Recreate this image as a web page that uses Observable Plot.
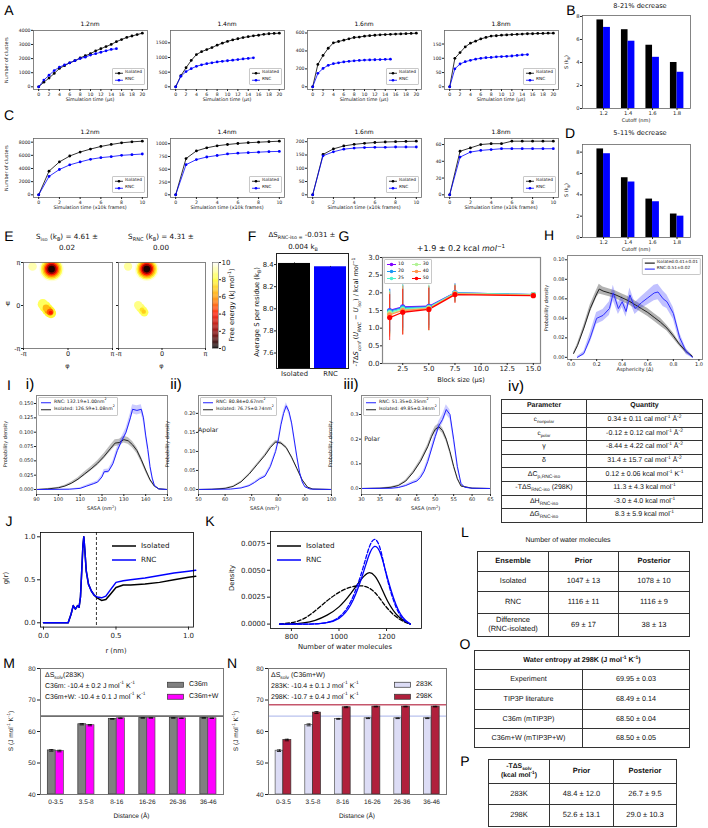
<!DOCTYPE html>
<html><head><meta charset="utf-8">
<script src="https://cdn.jsdelivr.net/npm/d3@7"></script>
<script src="https://cdn.jsdelivr.net/npm/@observablehq/plot@0.6"></script>
<style>
html,body{margin:0;padding:0;background:#fff;}
#root{position:relative;width:708px;height:828px;overflow:hidden;background:#fff;text-rendering:geometricPrecision;}
#root svg{overflow:visible;}
.tb{position:absolute;border-collapse:collapse;font-family:"Liberation Sans",Arial,sans-serif;font-size:7px;color:#111;table-layout:fixed;}
.tb td,.tb th{border:1px solid #333;text-align:center;padding:0;line-height:1.15;}
.tb th{font-weight:bold;}
sub,sup{font-size:70%;line-height:0;}
</style></head><body><div id="root"></div><script>
// ================= DATA =================
// A: number of clusters vs simulation time (µs)
const A_titles = ["1.2nm","1.4nm","1.6nm","1.8nm"];
const A12_iso = [0,330,620,950,1300,1500,1700,1850,2050,2200,2350,2550,2700,2850,3000,3200,3350,3500,3600,3700,3800];
const A12_rnc = [0,480,820,1150,1400,1550,1700,1850,2000,2100,2250,2350,2450,2550,2650,2700];
const A14_iso = [0,380,650,900,1100,1200,1270,1340,1420,1490,1550,1600,1640,1680,1710,1740,1760,1790,1810,1820,1830];
const A14_rnc = [0,360,520,620,700,750,790,820,850,870,890,910,930,950,970,990];
const A16_iso = [0,250,350,430,490,505,520,535,550,555,565,570,575,580,583,585,588,590,592,595,598];
const A16_rnc = [0,150,205,240,258,268,278,284,290,294,298,300,302,304,306,308];
const A18_iso = [0,100,120,140,153,160,168,173,178,179,181,182,183,184,185,186,186,187,187,188,188];
const A18_rnc = [0,63,80,88,93,97,100,102,103,105,106,107,108,110,112,113];
const A_yticks = [[0,1000,2000,3000,4000],[0,500,1000,1500],[0,200,400,600],[0,50,100,150]];
const A_xticks = [0,2,4,6,8,10,12,14,16,18,20];
// C: number of clusters vs simulation time (x10k frames)
const C12_iso = [0,3600,5000,5900,6500,6950,7350,7650,7900,8050,8150];
const C12_rnc = [0,2800,3850,4550,5000,5400,5650,5800,6000,6100,6200];
const C14_iso = [0,710,860,920,960,985,1005,1020,1030,1040,1050];
const C14_rnc = [0,590,690,740,770,800,815,825,835,845,850];
const C16_iso = [0,152,173,184,190,194,197,199,200,201,202];
const C16_rnc = [0,147,162,172,176,178,179,179,180,180,180];
const C18_iso = [0,52,56,60,61,61,64,64,64,64,64];
const C18_rnc = [0,45,51,53,54,55,55,55,55,55,55];
const C_yticks = [[0,2000,4000,6000,8000],[0,250,500,750,1000],[0,50,100,150,200],[0,20,40,60]];
const C_xticks = [0,2,4,6,8,10];
// B, D: entropy vs cutoff
const BD_cutoffs = ["1.2","1.4","1.6","1.8"];
const B_iso = [7.7,6.85,5.5,4.0];
const B_rnc = [7.05,5.85,4.45,3.15];
const D_iso = [8.3,5.6,3.6,2.2];
const D_rnc = [7.85,5.2,3.35,2.0];
// E: free-energy basins on Ramachandran map (phi, psi, extent in rad, energy kJ/mol)
const E_iso_phi = [-1.16,-1.16,-1.16,-1.16,-1.16,-1.16,-1.16,-2.5,-1.78,-1.62,-1.46,-1.3,-1.2,-1.55,-1.4,-1.26,-1.22];
const E_iso_psi = [2.66,2.66,2.66,2.66,2.66,2.66,2.66,2.85,0.1,-0.08,-0.28,-0.45,-0.55,-0.18,-0.35,-0.48,-0.52];
const E_iso_ext = [0.86,0.76,0.66,0.56,0.46,0.36,0.24,0.3,0.36,0.4,0.4,0.4,0.36,0.24,0.26,0.24,0.14];
const E_iso_en  = [9.6,8.3,7.0,5.6,4.0,2.2,0.4,9.2,8.4,8.2,8.0,7.8,7.8,6.6,6.0,5.0,4.0];
const E_rnc_phi = [-1.1,-1.1,-1.1,-1.1,-1.1,-1.1,-1.1,-2.45,-1.72,-1.55,-1.38,-1.28,-1.45,-1.32];
const E_rnc_psi = [2.66,2.66,2.66,2.66,2.66,2.66,2.66,2.85,0.02,-0.18,-0.38,-0.5,-0.3,-0.45];
const E_rnc_ext = [0.86,0.76,0.66,0.56,0.46,0.36,0.24,0.3,0.3,0.32,0.32,0.3,0.16,0.16];
const E_rnc_en  = [9.6,8.3,7.0,5.6,4.0,2.2,0.4,9.0,8.8,8.6,8.4,8.3,7.4,7.0];
const E_cbar_ticks = [0,2,4,6,8,10];
// F
const F_labels = ["Isolated","RNC"];
const F_vals = [8.41,8.38];
const F_err = [0.004,0.003];
// G: -TdS_conf vs block size
const G_block = [1.25,2.5,5,7.5,15];
const G_series = ["10","20","25","30","40","50"];
const G_10 = [1.5,1.6,1.62,2.0,1.95];
const G_20 = [1.48,1.58,1.6,2.0,1.95];
const G_25 = [1.45,1.55,1.58,1.99,1.95];
const G_30 = [1.42,1.52,1.57,1.98,1.94];
const G_40 = [1.38,1.5,1.55,1.97,1.93];
const G_50 = [1.3,1.45,1.53,1.95,1.92];
const G_10e = [0.6,0.6,0.55,0.25,0.03];
const G_20e = [0.62,0.65,0.6,0.25,0.03];
const G_25e = [0.62,0.65,0.6,0.25,0.03];
const G_30e = [0.62,0.7,0.65,0.25,0.03];
const G_40e = [0.63,0.68,0.62,0.25,0.03];
const G_50e = [0.65,0.65,0.6,0.25,0.03];
// H: asphericity distributions
const H_iso_x = [0.02,0.05,0.1,0.15,0.2,0.22,0.25,0.3,0.35,0.4,0.45,0.5,0.55,0.6,0.65,0.7,0.75,0.8,0.85,0.9,0.95];
const H_iso_y = [0.004,0.012,0.03,0.05,0.065,0.07,0.068,0.066,0.064,0.061,0.058,0.054,0.05,0.046,0.041,0.036,0.03,0.022,0.013,0.006,0.001];
const H_iso_e = [0.001,0.002,0.003,0.004,0.004,0.005,0.004,0.004,0.004,0.004,0.004,0.004,0.004,0.004,0.004,0.004,0.003,0.003,0.002,0.002,0.001];
const H_rnc_x = [0.05,0.1,0.15,0.2,0.25,0.3,0.33,0.37,0.4,0.43,0.46,0.5,0.55,0.6,0.65,0.68,0.72,0.75,0.8,0.85,0.9,0.95];
const H_rnc_y = [0,0.004,0.02,0.04,0.043,0.05,0.066,0.05,0.057,0.047,0.064,0.05,0.056,0.061,0.066,0.067,0.06,0.057,0.045,0.02,0.006,0.0];
const H_rnc_e = [0.001,0.002,0.005,0.006,0.006,0.007,0.008,0.006,0.006,0.006,0.007,0.006,0.006,0.007,0.008,0.008,0.008,0.007,0.006,0.005,0.003,0.001];
// I: SASA distributions
const I1_iso_x = [90,95,100,103,106,109,112,115,118,121,124,126,128,130,132,134,136,138,140,142,144,146,150];
const I1_iso_y = [0,0.001,0.003,0.006,0.011,0.018,0.027,0.036,0.046,0.058,0.072,0.081,0.082,0.087,0.085,0.078,0.068,0.052,0.034,0.017,0.006,0.001,0];
const I1_rnc_x = [90,105,110,113,116,118,120,121,123,125,127,129,131,133,134,136,138,139,140,141,142,143,144,146,150];
const I1_rnc_y = [0,0.0005,0.002,0.006,0.01,0.013,0.022,0.031,0.032,0.045,0.068,0.085,0.1,0.125,0.14,0.138,0.14,0.125,0.095,0.07,0.04,0.02,0.007,0.001,0];
const I2_iso_x = [50,55,60,63,66,69,72,75,77,79,81,83,85,87,89,91,93,100];
const I2_iso_y = [0,0.0005,0.003,0.008,0.02,0.04,0.065,0.09,0.11,0.125,0.122,0.11,0.085,0.055,0.025,0.006,0.001,0];
const I2_rnc_x = [50,62,66,69,71,73,75,77,79,80,81,82,83,84,85,86,87,88,89,90,92,100];
const I2_rnc_y = [0,0.001,0.004,0.01,0.018,0.028,0.035,0.06,0.1,0.13,0.17,0.2,0.22,0.205,0.175,0.13,0.085,0.045,0.02,0.007,0.001,0];
const I3_iso_x = [30,35,38,40,42,44,46,48,49,50,51,52,53,54,55,56,57,60,65];
const I3_iso_y = [0,0.001,0.005,0.012,0.03,0.065,0.11,0.17,0.21,0.24,0.25,0.235,0.2,0.15,0.09,0.04,0.01,0.001,0];
const I3_rnc_x = [30,38,40,42,44,45,46,47,48,49,50,51,52,53,54,55,56,57,58,60,65];
const I3_rnc_y = [0,0.001,0.004,0.012,0.025,0.03,0.045,0.07,0.11,0.16,0.21,0.255,0.28,0.32,0.3,0.2,0.09,0.02,0.005,0.001,0];
const I_band = [0.006,0.004,0.012];     // band half-widths at peak (isolated)
const I_band_rnc = [0.008,0.008,0.02];  // band half-widths at peak (RNC)
// J: radial distribution
const J_r   = [0,0.17,0.19,0.205,0.22,0.235,0.245,0.255,0.265,0.272,0.278,0.285,0.295,0.31,0.33,0.35,0.37,0.4,0.43,0.46,0.5,0.55,0.6,0.7,0.8,0.9,1.0,1.05];
const J_iso = [0,0,0.1,0.2,0.16,0.2,0.18,0.3,0.65,0.9,1.0,0.85,0.6,0.45,0.37,0.32,0.29,0.26,0.27,0.33,0.41,0.44,0.44,0.45,0.47,0.5,0.53,0.54];
const J_rnc = [0,0,0.1,0.2,0.16,0.2,0.18,0.3,0.65,0.9,1.0,0.85,0.6,0.45,0.37,0.32,0.3,0.29,0.31,0.38,0.47,0.49,0.5,0.52,0.55,0.58,0.6,0.61];
const J_cut = [0.365];
// K: number of water molecules density
const K_n = [750,800,850,900,950,1000,1050,1100,1125,1150,1175,1200,1250,1300];
const K_iso_post  = [0,0,0.0001,0.0003,0.0008,0.0015,0.0028,0.0044,0.0049,0.0046,0.0036,0.0022,0.0005,0];
const K_iso_prior = [0,0.0001,0.0004,0.0012,0.0022,0.003,0.0035,0.0036,0.0034,0.003,0.0023,0.0015,0.0004,0];
const K_rnc_post  = [0,0,0,0,0.0001,0.0004,0.0015,0.0045,0.0065,0.0075,0.0068,0.0045,0.0008,0];
const K_rnc_prior = [0,0,0,0,0.0001,0.0005,0.0018,0.005,0.0072,0.0082,0.0072,0.0042,0.0006,0];
// M, N: water entropy by distance shell
const MN_dist = ["0-3.5","3.5-8","8-16","16-26","26-36","36-46"];
const M_c36m  = [54.0,62.3,64.0,64.3,64.3,64.3];
const M_c36mw = [53.8,62.0,64.2,64.3,64.2,64.2];
const M_err   = [0.25,0.2,0.1,0.05,0.05,0.05];
const M_ref   = [64.9];
const N_283 = [53.9,62.1,64.0,64.2,64.2,64.2];
const N_298 = [57.3,66.0,67.7,67.9,67.9,67.9];
const N_err = [0.25,0.3,0.15,0.1,0.1,0.1];
const N_ref283 = [64.9];
const N_ref298 = [68.5];

// ================= HELPERS =================
const FONT = "'DejaVu Sans', sans-serif";
const ARIAL = "'Liberation Sans', Arial, sans-serif";
const root = document.getElementById("root");
function plotAt(fx, fy, fw, fh, opts, fs = 5) {
  const p = Plot.plot({
    width: fw, height: fh, marginTop: 0, marginRight: 0, marginBottom: 0, marginLeft: 0,
    style: {fontFamily: FONT, fontSize: fs + "px", background: "transparent", overflow: "visible", color: "#222"},
    ...opts
  });
  p.style.position = "absolute"; p.style.left = fx + "px"; p.style.top = fy + "px";
  root.appendChild(p); return p;
}
function txt(html, x, y, o = {}) {
  const d = document.createElement("div");
  d.innerHTML = html;
  d.style.cssText = `position:absolute;left:${x}px;top:${y}px;white-space:nowrap;line-height:1.15;font-size:${o.fs || 6}px;font-family:${o.ff || FONT};color:${o.color || "#111"};${o.css || ""}`;
  let tr = o.anchor === "start" ? "translate(0,-50%)" : o.anchor === "end" ? "translate(-100%,-50%)" : "translate(-50%,-50%)";
  if (o.rot) tr += ` rotate(${o.rot}deg)`;
  d.style.transform = tr;
  root.appendChild(d); return d;
}
function legendBox(x, y, items, o = {}) {
  const fs = o.fs || 5, h = o.rowH || fs * 1.5, w = o.lw || 8;
  const d = document.createElement("div");
  d.style.cssText = `position:absolute;left:${x}px;top:${y}px;padding:${o.pad ?? 1}px ${o.padx ?? 2}px;border:${o.border ?? "0.5px solid #c8c8c8"};border-radius:1px;background:${o.bg ?? "#fff"};font-family:${o.ff || FONT};font-size:${fs}px;color:#111;line-height:${h}px;${o.css || ""}`;
  if (o.cols) { d.style.display = "grid"; d.style.gridTemplateRows = `repeat(${Math.ceil(items.length / o.cols)}, ${h}px)`; d.style.gridAutoFlow = "column"; d.style.columnGap = (o.colGap || 4) + "px"; }
  if (o.anchor === "br") d.style.transform = "translate(-100%,-100%)";
  d.innerHTML = items.map(it => {
    let g = "";
    if (it.swatch) g = `<rect x="0.5" y="${h / 2 - 2.5}" width="${w - 1}" height="5" fill="${it.swatch}" stroke="${it.edge || "#333"}" stroke-width="0.7"/>`;
    else {
      if (it.band) g += `<rect x="0" y="${h / 2 - (it.bh || 1.5)}" width="${w}" height="${2 * (it.bh || 1.5)}" fill="${it.band}"/>`;
      g += `<line x1="0" x2="${w}" y1="${h / 2}" y2="${h / 2}" stroke="${it.color}" stroke-width="${it.sw || 0.8}" ${it.dash ? 'stroke-dasharray="2,1.5"' : ""}/>`;
      if (it.marker) g += `<circle cx="${w / 2}" cy="${h / 2}" r="${it.mr || 1.3}" fill="${it.color}"/>`;
    }
    return `<div style="display:flex;align-items:center;height:${h}px"><svg width="${w}" height="${h}" style="overflow:visible;margin-right:${o.gap ?? 2}px;flex:none">${g}</svg><span>${it.label}</span></div>`;
  }).join("");
  root.appendChild(d); return d;
}
function panelLabel(s, x, y, fs = 14) { txt(s, x, y, {fs, ff: ARIAL, color: "#000"}); }
function table(x, y, colW, rowH, rows, o = {}) {
  const t = document.createElement("table");
  t.className = "tb";
  t.style.left = x + "px"; t.style.top = y + "px";
  t.style.width = d3.sum(colW) + "px";
  if (o.fs) t.style.fontSize = o.fs + "px";
  let html = "<colgroup>" + colW.map(w => `<col style="width:${w}px">`).join("") + "</colgroup>";
  rows.forEach((r, i) => {
    html += `<tr style="height:${rowH[i]}px">` + r.map(c => {
      const tag = (i === 0 && o.header !== false) ? "th" : "td";
      if (typeof c === "object") return `<${tag} colspan="${c.span || 1}" style="${c.css || ""}">${c.html}</${tag}>`;
      return `<${tag}>${c}</${tag}>`;
    }).join("") + "</tr>";
  });
  t.innerHTML = html;
  root.appendChild(t); return t;
}
const AX = {tickSize: 2, tickPadding: 1, label: null};

// ================= PANELS A & C =================
const FX = [33, 170, 307, 444], FW = 114;
function clusterPanel(fx, fy, fh, title, iso, rnc, yticks, xticks) {
  const data = [...iso.map((v, i) => ({t: i, v, s: "Isolated"})), ...rnc.map((v, i) => ({t: i, v, s: "RNC"}))];
  const xmax = iso.length - 1, ymax = d3.max(data, d => d.v);
  plotAt(fx, fy, FW, fh, {
    x: {domain: [-0.05 * xmax, 1.05 * xmax]},
    y: {domain: [-0.05 * ymax, 1.05 * ymax]},
    color: {domain: ["Isolated", "RNC"], range: ["#000", "#0000ff"]},
    marks: [
      Plot.frame({stroke: "#666", strokeWidth: 0.8}),
      Plot.axisX({...AX, ticks: xticks, tickFormat: d3.format("d")}),
      Plot.axisY({...AX, ticks: yticks, tickFormat: d3.format("d")}),
      Plot.line(data, {x: "t", y: "v", stroke: "s", z: "s", strokeWidth: 0.8}),
      Plot.dot(data, {x: "t", y: "v", fill: "s", r: 1.4})
    ]
  }, 4.6);
  txt(title, Math.round(fx + FW / 2), fy - 5, {fs: 6, color: "#000"});
  legendBox(fx + FW - 2, fy + fh - 4, [
    {label: "Isolated", color: "#000", marker: true},
    {label: "RNC", color: "#0000ff", marker: true}
  ], {fs: 4.3, rowH: 6.5, lw: 8, anchor: "br", padx: 2});
}
const A_iso = [A12_iso, A14_iso, A16_iso, A18_iso], A_rnc = [A12_rnc, A14_rnc, A16_rnc, A18_rnc];
const C_iso = [C12_iso, C14_iso, C16_iso, C18_iso], C_rnc = [C12_rnc, C14_rnc, C16_rnc, C18_rnc];
for (let k = 0; k < 4; k++) {
  clusterPanel(FX[k], 30, 59, A_titles[k], A_iso[k], A_rnc[k], A_yticks[k], A_xticks);
  txt("Simulation time (µs)", FX[k] + FW / 2, 101, {fs: 4.8});
  clusterPanel(FX[k], 138, 59, A_titles[k], C_iso[k], C_rnc[k], C_yticks[k], C_xticks);
  txt("Simulation time (x10k frames)", FX[k] + FW / 2, 209, {fs: 4.8});
}
txt("Number of clusters", 8, 60, {fs: 4.8, rot: -90});
txt("Number of clusters", 8, 168, {fs: 4.8, rot: -90});
panelLabel("A", 9, 10); panelLabel("C", 9, 115);

// ================= PANELS B & D =================
function barPanel(fy, fh, iso, rnc, title, ty) {
  const data = [...iso.map((v, i) => ({i, v, s: "Isolated", a: i - 0.27, b: i})), ...rnc.map((v, i) => ({i, v, s: "RNC", a: i, b: i + 0.28}))];
  const ymax = d3.max(data, d => d.v) * 1.05;
  plotAt(582, fy, 108, fh, {
    x: {domain: [-0.86, 3.55]},
    y: {domain: [0, ymax]},
    color: {domain: ["Isolated", "RNC"], range: ["#000", "#0000ff"]},
    marks: [
      Plot.rect(data, {x1: "a", x2: "b", y1: 0, y2: "v", fill: "s"}),
      Plot.frame({stroke: "#666", strokeWidth: 0.8}),
      Plot.axisX({...AX, ticks: [0, 1, 2, 3], tickFormat: i => BD_cutoffs[i]}),
      Plot.axisY({...AX, ticks: [0, 2, 4, 6, 8], tickFormat: d3.format("d")})
    ]
  }, 5.2);
  txt(title, 640, ty, {fs: 6.6});
}
barPanel(15, 93, B_iso, B_rnc, "8-21% decrease", 7);
txt("Cutoff (nm)", 636, 122, {fs: 5});
txt("S (k<sub>B</sub>)", 568, 62, {fs: 5, rot: -90});
barPanel(144, 93, D_iso, D_rnc, "5-11% decrease", 134);
txt("Cutoff (nm)", 636, 251, {fs: 5});
txt("S (k<sub>B</sub>)", 568, 190, {fs: 5, rot: -90});
panelLabel("B", 571, 10); panelLabel("D", 570, 133);

// ================= PANEL E =================
const E_color = {type: "linear", domain: [0, 2, 4, 6, 8, 10], range: ["#000000", "#8c0000", "#ff1700", "#ff9d00", "#ffff36", "#ffffff"], clamp: true};
function ramaMap(fx, fw, phi, psi, ext, en, showY) {
  const data = phi.map((p, i) => ({phi: p, psi: psi[i], ext: ext[i], en: en[i]}));
  const PI = Math.PI;
  plotAt(fx, 262, fw, 86, {
    x: {domain: [-PI, PI]}, y: {domain: [-PI, PI]},
    r: {type: "linear", domain: [0, 2 * PI], range: [0, fw]},
    color: E_color,
    marks: [
      Plot.dot(data, {x: "phi", y: "psi", r: "ext", fill: "en", clip: true, imageFilter: "blur(0.7px)"}),
      Plot.frame({stroke: "#666", strokeWidth: 0.8}),
      Plot.axisX({...AX, ticks: [-PI, 0, PI], tickFormat: d => d < -1 ? "-π" : d > 1 ? "π" : "0"}),
      Plot.axisY({...AX, ticks: [-PI, 0, PI], tickFormat: d => showY ? (d < -1 ? "-π" : d > 1 ? "π" : "0") : ""})
    ]
  }, 6.5);
  txt("φ", fx + fw / 2, 367, {fs: 6.5});
}
ramaMap(23, 89, E_iso_phi, E_iso_psi, E_iso_ext, E_iso_en, true);
ramaMap(118, 87, E_rnc_phi, E_rnc_psi, E_rnc_ext, E_rnc_en, false);
txt("ψ", 8, 304, {fs: 6.5});
txt("S<sub>iso</sub> (k<sub>B</sub>) = 4.61 ±", 67, 237, {fs: 7.2});
txt("0.02", 67, 248, {fs: 7.2});
txt("S<sub>RNC</sub> (k<sub>B</sub>) = 4.31 ±", 161, 237, {fs: 7.2});
txt("0.00", 161, 248, {fs: 7.2});
// colorbar
const cbar = d3.range(0, 10, 0.1).map(v => ({v}));
plotAt(212, 262, 6, 86, {
  x: {domain: [0, 1], axis: null}, y: {domain: [0, 10]}, color: E_color,
  marks: [
    Plot.rect(cbar, {x1: 0, x2: 1, y1: "v", y2: d => d.v + 0.1, fill: d => d.v + 0.05}),
    Plot.frame({stroke: "#666", strokeWidth: 0.6}),
    Plot.axisY({...AX, anchor: "right", ticks: E_cbar_ticks, tickFormat: d3.format("d")})
  ]
}, 7);
txt("Free energy (kJ mol<sup>-1</sup>)", 233, 305, {fs: 6.8, rot: -90});
panelLabel("E", 9, 236);

// ================= PANEL F =================
const F_data = F_labels.map((l, i) => ({l, v: F_vals[i], e: F_err[i]}));
plotAt(276, 253, 72, 115, {
  x: {type: "band", domain: F_labels, paddingInner: 0.1, paddingOuter: 0.05},
  y: {domain: [7.46, 8.5]},
  color: {domain: F_labels, range: ["#000", "#0000ff"]},
  marks: [
    Plot.rect(F_data, {x: "l", y1: 7.46, y2: "v", fill: "l"}),
    Plot.ruleX(F_data, {x: "l", y1: d => d.v - d.e, y2: d => d.v + d.e, stroke: "#000"}),
    Plot.frame({stroke: "#222", strokeWidth: 1}),
    Plot.axisX({...AX, tickSize: 0, tickPadding: 3}),
    Plot.axisY({...AX, ticks: [7.6, 7.8, 8.0, 8.2, 8.4], tickFormat: d3.format(".1f")})
  ]
}, 6.8);
txt("Average S per residue (k<sub>B</sub>)", 258, 312, {fs: 6.8, rot: -90});
txt("ΔS<sub>RNC-iso =</sub> -0.031 ±", 302, 235, {fs: 7});
txt("0.004 k<sub>B</sub>", 303, 247, {fs: 7});
panelLabel("F", 252, 236);

// ================= PANEL G =================
const G_vals = [G_10, G_20, G_25, G_30, G_40, G_50], G_errs = [G_10e, G_20e, G_25e, G_30e, G_40e, G_50e];
const G_data = G_series.flatMap((s, k) => G_block.map((b, i) => ({s, b, v: G_vals[k][i], e: G_errs[k][i]})));
const G_colors = ["#8000ff", "#1996f3", "#4df3ce", "#b2f396", "#ff964f", "#ff0000"];
plotAt(382, 257, 158, 106, {
  x: {domain: [0.5625, 15.6875]}, y: {domain: [0, 3]},
  color: {domain: G_series, range: G_colors},
  marks: [
    Plot.ruleX(G_data, {x: "b", y1: d => d.v - d.e, y2: d => d.v + d.e, stroke: "s", strokeWidth: 0.8}),
    Plot.line(G_data, {x: "b", y: "v", stroke: "s", z: "s", strokeWidth: 1.3}),
    Plot.dot(G_data, {x: "b", y: "v", fill: "s", r: 2.6}),
    Plot.frame({stroke: "#888", strokeWidth: 1.2}),
    Plot.axisX({...AX, ticks: [2.5, 5, 7.5, 10, 12.5, 15], tickFormat: d3.format(".1f")}),
    Plot.axisY({...AX, ticks: [0, 0.5, 1, 1.5, 2, 2.5, 3], tickFormat: d3.format(".1f")})
  ]
}, 7);
legendBox(384, 259, G_series.map((s, k) => ({label: s, color: G_colors[k], marker: true, mr: 1.8, sw: 1})), {fs: 4.6, rowH: 7, lw: 9, cols: 2, colGap: 8, pad: 1});
txt("+1.9 ± 0.2 kcal <i>mol</i><sup>−1</sup>", 461, 249, {fs: 8});
txt("Block size (µs)", 461, 381, {fs: 6.6});
txt("-<i>T</i>Δ<i>S</i><sub><i>conf</i></sub> (<i>U</i><sub><i>RNC</i></sub> − <i>U</i><sub><i>iso</i></sub>) / kcal <i>mol</i><sup>−1</sup>", 357, 312, {fs: 6.6, rot: -90});
panelLabel("G", 344, 236);

// ================= PANEL H =================
const H_iso = H_iso_x.map((x, i) => ({x, y: H_iso_y[i], e: H_iso_e[i]}));
const H_rnc = H_rnc_x.map((x, i) => ({x, y: H_rnc_y[i], e: H_rnc_e[i]}));
plotAt(567, 255, 135, 104, {
  x: {domain: [-0.028, 1.028]}, y: {domain: [-0.0022, 0.1044]},
  marks: [
    Plot.areaY(H_iso, {x: "x", y1: d => d.y - d.e, y2: d => d.y + d.e, fill: "#000", fillOpacity: 0.3}),
    Plot.areaY(H_rnc, {x: "x", y1: d => d.y - d.e, y2: d => d.y + d.e, fill: "#3333ff", fillOpacity: 0.3}),
    Plot.line(H_iso, {x: "x", y: "y", stroke: "#222", strokeWidth: 1}),
    Plot.line(H_rnc, {x: "x", y: "y", stroke: "#3030ff", strokeWidth: 1}),
    Plot.frame({stroke: "#888", strokeWidth: 1}),
    Plot.axisX({...AX, ticks: [0, 0.2, 0.4, 0.6, 0.8, 1], tickFormat: d3.format(".1f")}),
    Plot.axisY({...AX, ticks: [0, 0.02, 0.04, 0.06, 0.08, 0.1], tickFormat: d3.format(".2f")})
  ]
}, 5);
legendBox(701, 258, [
  {label: "Isolated:0.41±0.01", color: "#555", sw: 1.6},
  {label: "RNC:0.51±0.02", color: "#6a6aff", sw: 1.6}
], {fs: 4.3, rowH: 6.3, lw: 10, css: "transform:translateX(-100%)"});
txt("Asphericity (Δ)", 635, 371, {fs: 5});
txt("Probability density", 548, 308, {fs: 5, rot: -90});
panelLabel("H", 549, 235);

// ================= PANEL I =================
const I_specs = [
  {fx: 36, fw: 131, xd: [90, 150], yd: [-0.0087, 0.164], xt: [90, 100, 110, 120, 130, 140, 150], yt: [0, 0.025, 0.05, 0.075, 0.1, 0.125, 0.15], yf: ".3f",
   ix: I1_iso_x, iy: I1_iso_y, rx: I1_rnc_x, ry: I1_rnc_y, leg: ["RNC: 132.19±1.00nm<sup>2</sup>", "Isolated: 126.59±1.08nm<sup>2</sup>"]},
  {fx: 198, fw: 133, xd: [50, 100], yd: [-0.0132, 0.247], xt: [50, 60, 70, 80, 90, 100], yt: [0, 0.05, 0.1, 0.15, 0.2], yf: ".2f",
   ix: I2_iso_x, iy: I2_iso_y, rx: I2_rnc_x, ry: I2_rnc_y, leg: ["RNC: 80.84±0.67nm<sup>2</sup>", "Isolated: 76.75±0.74nm<sup>2</sup>"]},
  {fx: 361, fw: 129, xd: [30, 65], yd: [-0.0243, 0.377], xt: [30, 35, 40, 45, 50, 55, 60, 65], yt: [0, 0.1, 0.2, 0.3], yf: ".1f",
   ix: I3_iso_x, iy: I3_iso_y, rx: I3_rnc_x, ry: I3_rnc_y, leg: ["RNC: 51.35±0.35nm<sup>2</sup>", "Isolated: 49.85±0.34nm<sup>2</sup>"]}
];
I_specs.forEach((s, k) => {
  const iso = s.ix.map((x, i) => ({x, y: s.iy[i]}));
  const rnc = s.rx.map((x, i) => ({x, y: s.ry[i]}));
  const bi = I_band[k], br = I_band_rnc[k];
  const mi = d3.max(s.iy), mr = d3.max(s.ry);
  plotAt(s.fx, 395, s.fw, 99, {
    x: {domain: s.xd}, y: {domain: s.yd},
    marks: [
      Plot.areaY(iso, {x: "x", y1: d => d.y - bi * Math.sqrt(d.y / mi), y2: d => d.y + bi * Math.sqrt(d.y / mi), fill: "#000", fillOpacity: 0.25}),
      Plot.areaY(rnc, {x: "x", y1: d => d.y - br * Math.sqrt(d.y / mr), y2: d => d.y + br * Math.sqrt(d.y / mr), fill: "#3333ff", fillOpacity: 0.25}),
      Plot.line(iso, {x: "x", y: "y", stroke: "#222", strokeWidth: 1}),
      Plot.line(rnc, {x: "x", y: "y", stroke: "#2020ff", strokeWidth: 1}),
      Plot.frame({stroke: "#888", strokeWidth: 1}),
      Plot.axisX({...AX, ticks: s.xt, tickFormat: d3.format("d")}),
      Plot.axisY({...AX, ticks: s.yt, tickFormat: d3.format(s.yf)})
    ]
  }, 5);
  legendBox(s.fx + 1.5, 396.5, [
    {label: s.leg[0], color: "#2020ff", sw: 1},
    {label: s.leg[1], color: "#222", sw: 1}
  ], {fs: 4.6, rowH: 7.5, lw: 10, padx: 2.5, gap: 3});
  txt("SASA (<i>nm</i><sup>2</sup>)", s.fx + s.fw / 2, 510, {fs: 5});
  txt("Probability density", s.fx - 29, 444, {fs: 5, rot: -90});
});
txt("Apolar", 208, 431, {fs: 6.2});
txt("Polar", 372, 440, {fs: 6.2});
panelLabel("I", 9, 385);
txt("i)", 30, 385, {fs: 15, ff: ARIAL, color: "#000"});
txt("ii)", 176, 385, {fs: 15, ff: ARIAL, color: "#000"});
txt("iii)", 351, 385, {fs: 15, ff: ARIAL, color: "#000"});
txt("iv)", 516, 387, {fs: 15, ff: ARIAL, color: "#000"});
// table iv
table(501, 399, [85, 116], [14, 13.6, 13.6, 13.6, 13.6, 13.6, 13.6, 13.6, 13.6], [
  ["Parameter", "Quantity"],
  ["<span style='font-size:90%'>c<sub>nonpolar</sub></span>", "0.34 ± 0.11 cal mol<sup>-1</sup> Å<sup>-2</sup>"],
  ["<span style='font-size:90%'>c<sub>polar</sub></span>", "-0.12 ± 0.12 cal mol<sup>-1</sup> Å<sup>-2</sup>"],
  ["γ", "-8.44 ± 4.22 cal mol<sup>-1</sup> Å<sup>-2</sup>"],
  ["δ", "31.4 ± 15.7 cal mol<sup>-1</sup> Å<sup>-2</sup>"],
  ["ΔC<sub>p,RNC-iso</sub>", "0.12 ± 0.06 kcal mol<sup>-1</sup> K<sup>-1</sup>"],
  ["-TΔS<sub>RNC-iso</sub> (298K)", "11.3 ± 4.3 kcal mol<sup>-1</sup>"],
  ["ΔH<sub>RNC-iso</sub>", "-3.0 ± 4.0 kcal mol<sup>-1</sup>"],
  ["ΔG<sub>RNC-iso</sub>", "8.3 ± 5.9 kcal mol<sup>-1</sup>"]
], {fs: 7});

// ================= PANEL J =================
const J_data = [...J_r.map((r, i) => ({r, g: J_iso[i], s: "Isolated"})), ...J_r.map((r, i) => ({r, g: J_rnc[i], s: "RNC"}))];
plotAt(40, 531.7, 153, 94.6, {
  x: {domain: [-0.0207, 1.0345]}, y: {domain: [-0.05, 1.05]},
  color: {domain: ["Isolated", "RNC"], range: ["#000", "#0000ff"]},
  marks: [
    Plot.line(J_data, {x: "r", y: "g", stroke: "s", z: "s", strokeWidth: 1.5}),
    Plot.ruleX(J_cut, {stroke: "#000", strokeWidth: 0.8, strokeDasharray: "3,2"}),
    Plot.frame({stroke: "#000", strokeWidth: 0.8}),
    Plot.axisX({...AX, ticks: [0, 0.5, 1], tickFormat: d3.format(".1f"), tickSize: 3, tickPadding: 3}),
    Plot.axisY({...AX, ticks: [0, 0.5, 1], tickFormat: d3.format(".1f"), tickSize: 3, tickPadding: 2})
  ]
}, 7);
legendBox(110, 538, [{label: "Isolated", color: "#000", sw: 1.5}, {label: "RNC", color: "#0000ff", sw: 1.5}], {fs: 7.2, rowH: 14, lw: 24, gap: 5, border: "none", bg: "transparent"});
txt("r (nm)", 116, 652, {fs: 6.8});
txt("g(r)", 7, 578, {fs: 6.8, rot: -90});
panelLabel("J", 9, 521);

// ================= PANEL K =================
const K_sets = [["iso-prior", K_iso_prior, "#000", "4,2"], ["iso-post", K_iso_post, "#000", null], ["rnc-prior", K_rnc_prior, "#0000ff", "4,2"], ["rnc-post", K_rnc_post, "#0000ff", null]];
plotAt(270, 531, 151, 97, {
  x: {domain: [712, 1347]}, y: {domain: [-0.00041, 0.0086]},
  marks: [
    ...K_sets.map(([s, arr, c, dash]) => Plot.line(K_n.map((n, i) => ({n, d: arr[i]})), {x: "n", y: "d", stroke: c, strokeWidth: 1.3, strokeDasharray: dash, curve: "basis"})),
    Plot.frame({stroke: "#000", strokeWidth: 0.8}),
    Plot.axisX({...AX, ticks: [800, 1000, 1200], tickFormat: d3.format("d"), tickSize: 3, tickPadding: 3}),
    Plot.axisY({...AX, ticks: [0, 0.0025, 0.005, 0.0075], tickFormat: d3.format(".4f"), tickSize: 3, tickPadding: 2})
  ]
}, 7);
legendBox(275, 538, [{label: "Isolated", color: "#000", sw: 1.5}, {label: "RNC", color: "#0000ff", sw: 1.5}], {fs: 7.2, rowH: 14, lw: 24, gap: 5, border: "none", bg: "transparent"});
txt("Number of water molecules", 345, 648, {fs: 6.8});
txt("Density", 233, 578, {fs: 6.8, rot: -90});
panelLabel("K", 210, 521);

// ================= PANEL L =================
panelLabel("L", 465, 532);
txt("Number of water molecules", 568, 541, {fs: 7, ff: ARIAL});
table(477, 551, [71, 70, 71], [20, 20, 22, 23], [
  ["Ensemble", "Prior", "Posterior"],
  ["Isolated", "1047 ± 13", "1078 ± 10"],
  ["RNC", "1116 ± 11", "1116 ± 9"],
  ["Difference<br>(RNC-isolated)", "69 ± 17", "38 ± 13"]
], {fs: 7.5});

// ================= PANELS M & N =================
function entropyBars(fx, fw, s1, s2, c1, c2, e1, e2, err1, err2, refs) {
  const rows = [
    ...s1.map((v, i) => ({i, v, e: err1[i], s: "a", x1: i - 0.26, x2: i})),
    ...s2.map((v, i) => ({i, v, e: err2[i], s: "b", x1: i, x2: i + 0.27}))
  ];
  const mid = d => (d.x1 + d.x2) / 2;
  plotAt(fx, 668, fw, 126, {
    x: {domain: [-0.5, 5.5]}, y: {domain: [40, 80]},
    marks: [
      ...refs.map(r => Plot.ruleY(r.v, {stroke: r.c, strokeWidth: r.w || 1})),
      Plot.rect(rows, {x1: "x1", x2: "x2", y1: 40, y2: "v", fill: d => d.s === "a" ? c1 : c2, stroke: d => d.s === "a" ? e1 : e2, strokeWidth: 0.7}),
      Plot.ruleX(rows, {x: mid, y1: d => d.v - d.e, y2: d => d.v + d.e, stroke: "#000", strokeWidth: 0.7}),
      Plot.ruleY(rows, {x1: d => mid(d) - 0.07, x2: d => mid(d) + 0.07, y: d => d.v + d.e, stroke: "#000", strokeWidth: 0.8}),
      Plot.ruleY(rows, {x1: d => mid(d) - 0.07, x2: d => mid(d) + 0.07, y: d => d.v - d.e, stroke: "#000", strokeWidth: 0.8}),
      Plot.frame({stroke: "#777", strokeWidth: 1}),
      Plot.axisX({...AX, ticks: [0, 1, 2, 3, 4, 5], tickFormat: i => MN_dist[i], tickSize: 0, tickPadding: 5, fontFamily: ARIAL}),
      Plot.axisY({...AX, ticks: [40, 50, 60, 70, 80], tickFormat: d3.format("d"), tickSize: 3, tickPadding: 2, fontFamily: ARIAL})
    ]
  }, 6.5);
  txt("Distance (Å)", fx + fw / 2, 817, {fs: 6.5, ff: ARIAL});
}
entropyBars(40, 183, M_c36m, M_c36mw, "#808080", "#ff00ff", "#333", "#555", M_err, M_err, [{v: M_ref, c: "#000", w: 1}]);
txt("S (J mol<sup>-1</sup> K<sup>-1</sup>)", 12, 731, {fs: 6.5, ff: ARIAL, rot: -90});
txt("ΔS<sub>solv</sub>(283K)<br>C36m: -10.4 ± 0.2 J mol<sup>-1</sup> K<sup>-1</sup><br>C36m+W: -10.4 ± 0.1 J mol<sup>-1</sup> K<sup>-1</sup>", 45, 686, {fs: 7, ff: ARIAL, anchor: "start", css: "line-height:11px;"});
legendBox(165, 679, [{label: "C36m", swatch: "#808080"}, {label: "C36m+W", swatch: "#ff00ff"}], {fs: 7, ff: ARIAL, rowH: 11.5, lw: 17, gap: 5, border: "none", bg: "transparent", pad: 0});
panelLabel("M", 9, 663);

entropyBars(268, 178, N_283, N_298, "#dcdcf5", "#b0203c", "#555", "#333", N_err, N_err, [{v: N_ref298, c: "#c5566c", w: 1.3}, {v: N_ref283, c: "#b9c2ee", w: 1.3}]);
txt("S (J mol<sup>-1</sup> K<sup>-1</sup>)", 237, 731, {fs: 6.5, ff: ARIAL, rot: -90});
txt("ΔS<sub>solv</sub> (C36m+W)<br>283K: -10.4 ± 0.1 J mol<sup>-1</sup> K<sup>-1</sup><br>298K: -10.7 ± 0.4 J mol<sup>-1</sup> K<sup>-1</sup>", 271, 686, {fs: 7, ff: ARIAL, anchor: "start", css: "line-height:11px;"});
legendBox(392, 679, [{label: "283K", swatch: "#dcdcf5"}, {label: "298K", swatch: "#b0203c"}], {fs: 7, ff: ARIAL, rowH: 11.5, lw: 17, gap: 5, border: "none", bg: "transparent", pad: 0});
panelLabel("N", 232, 663);

// ================= PANEL O =================
panelLabel("O", 465, 644);
table(474, 650, [108, 107], [19, 20, 20, 19, 19], [
  [{html: "Water entropy at 298K (J mol<sup>-1</sup> K<sup>-1</sup>)", span: 2}],
  ["Experiment", "69.95 ± 0.03"],
  ["TIP3P literature", "68.49 ± 0.14"],
  ["C36m (mTIP3P)", "68.50 ± 0.04"],
  ["C36m+W (mTIP3P+W)", "68.50 ± 0.05"]
], {fs: 7.2});

// ================= PANEL P =================
panelLabel("P", 465, 761);
table(488, 759, [61, 64, 63], [24, 21, 22], [
  [{html: "-TΔS<sub>solv</sub><br>(kcal mol<sup>-1</sup>)", css: "line-height:1.25;font-size:6.8px"}, "Prior", "Posterior"],
  ["283K", "48.4 ± 12.0", "26.7 ± 9.5"],
  ["298K", "52.6 ± 13.1", "29.0 ± 10.3"]
], {fs: 7.5});
</script></body></html>
